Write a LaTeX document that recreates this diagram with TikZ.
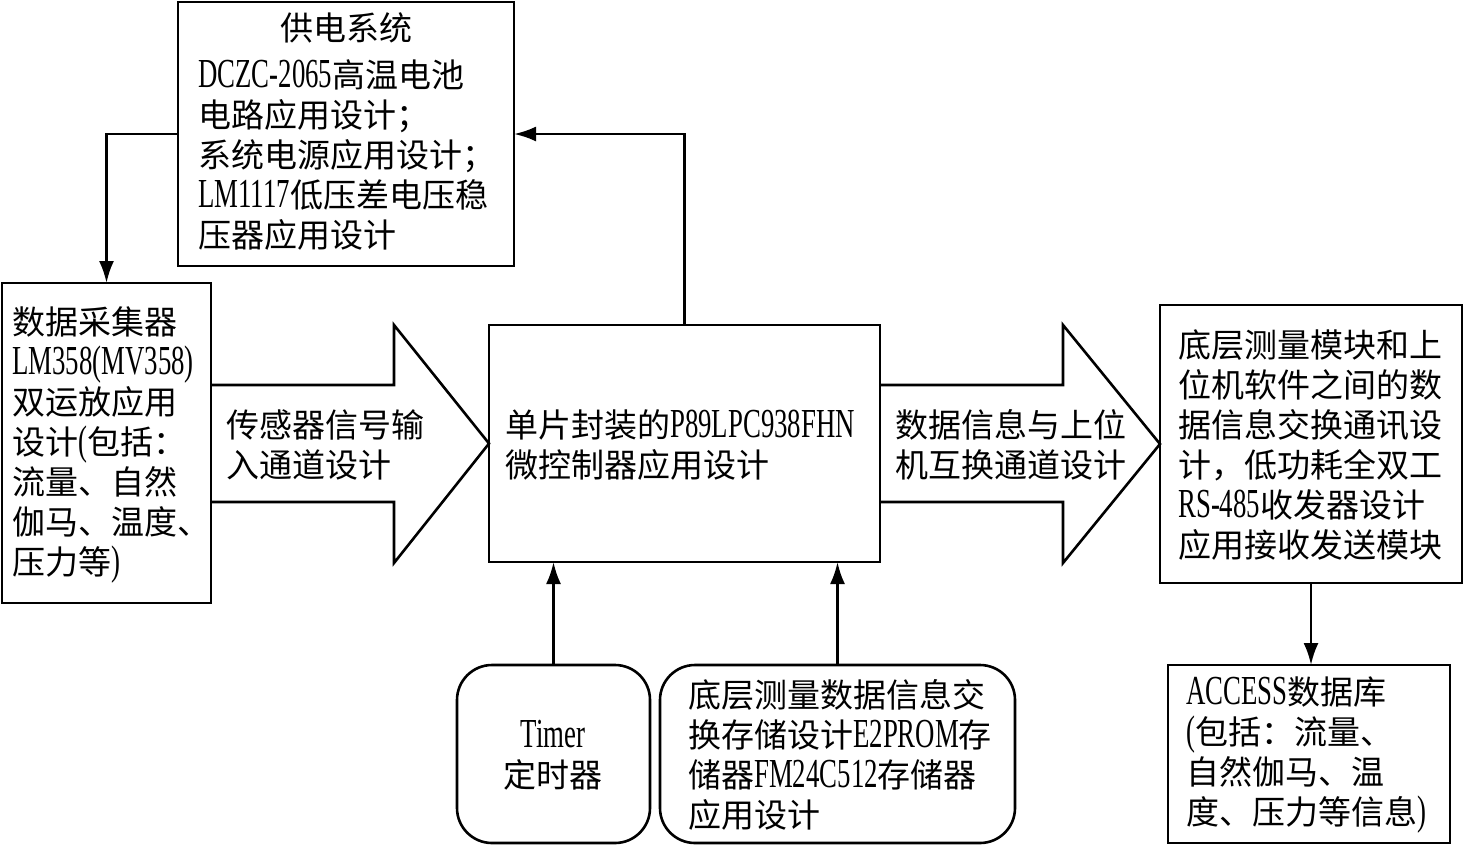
\documentclass[tikz,border=0pt]{standalone}
\usepackage{fontspec}
\setmainfont{Noto Sans CJK SC}
\newfontfamily\lat[Scale=1.25,FakeStretch=0.65]{Liberation Serif}
\usetikzlibrary{arrows.meta}
\begin{document}
\begin{tikzpicture}[x=1pt,y=-1pt,
  box/.style={draw,line width=2.6pt,inner sep=0,outer sep=0},
  rbox/.style={box,rounded corners=35pt},
  txt/.style={inner sep=0,align=left,font=\fontsize{33}{40}\selectfont,anchor=west},
  ctxt/.style={inner sep=0,align=center,font=\fontsize{33}{40}\selectfont},
  conn/.style={line width=2.6pt,-{Latex[length=22pt,width=15pt]}},
  big/.style={draw,line width=2.6pt,line join=miter}]
\useasboundingbox (0,0) rectangle (1463,852);
% boxes
\node[box,minimum width=336pt,minimum height=264pt] (pwr) at (346,134) {};
\node[box,minimum width=209pt,minimum height=320pt] (lbox) at (106.5,443) {};
\node[box,minimum width=391pt,minimum height=237pt] (ctr) at (684.5,443.5) {};
\node[box,minimum width=302pt,minimum height=278pt] (rbx) at (1311,444) {};
\node[rbox,minimum width=193pt,minimum height=178pt] (tmr) at (553.5,754) {};
\node[rbox,minimum width=355pt,minimum height=178pt] (sto) at (837.5,754) {};
\node[box,minimum width=282pt,minimum height=178pt] (acc) at (1309,754) {};
% block arrows
\draw[big] (lbox.east |- 0,385) -- (394,385) -- (394,325) -- (ctr.west) -- (394,563) -- (394,502) -- (lbox.east |- 0,502);
\draw[big] (ctr.east |- 0,385) -- (1063,385) -- (1063,325) -- (rbx.west) -- (1063,563) -- (1063,502) -- (ctr.east |- 0,502);
% texts
\node[ctxt] (pwrt) at (346,28) {供电系统};
\node[txt] (pwrb) at (198,155) {{\lat DCZC-2065}高温电池\\电路应用设计；\\系统电源应用设计；\\{\lat LM1117}低压差电压稳\\压器应用设计};
\node[txt] (lboxt) at (12,445) {数据采集器\\{\lat LM358(MV358)}\\双运放应用\\设计{\lat (}包括：\\流量、自然\\伽马、温度、\\压力等{\lat )}};
\node[txt] (a1t) at (226,445) {传感器信号输\\入通道设计};
\node[txt] (ctrt) at (505,445) {单片封装的{\lat P89LPC938FHN}\\微控制器应用设计};
\node[txt] (a2t) at (895,445) {数据信息与上位\\机互换通道设计};
\node[txt] (rbxt) at (1178,445) {底层测量模块和上\\位机软件之间的数\\据信息交换通讯设\\计，低功耗全双工\\{\lat RS-485}收发器设计\\应用接收发送模块};
\node[ctxt] (tmrt) at (553,755) {{\lat Timer}\\定时器};
\node[txt] (stot) at (688,755) {底层测量数据信息交\\换存储设计{\lat E2PROM}存\\储器{\lat FM24C512}存储器\\应用设计};
\node[txt] (acct) at (1186,755) {{\lat ACCESS}数据库\\{\lat (}包括：流量、\\自然伽马、温\\度、压力等信息{\lat )}};
% connectors
\draw[conn] (ctr.north) |- (pwr.east);
\draw[conn] (pwr.west) -| (lbox.north);
\draw[conn] (tmr.north) -- (tmr.north |- ctr.south);
\draw[conn] (sto.north) -- (sto.north |- ctr.south);
\draw[conn] (rbx.south) -- (rbx.south |- acc.north);
\end{tikzpicture}
\end{document}
